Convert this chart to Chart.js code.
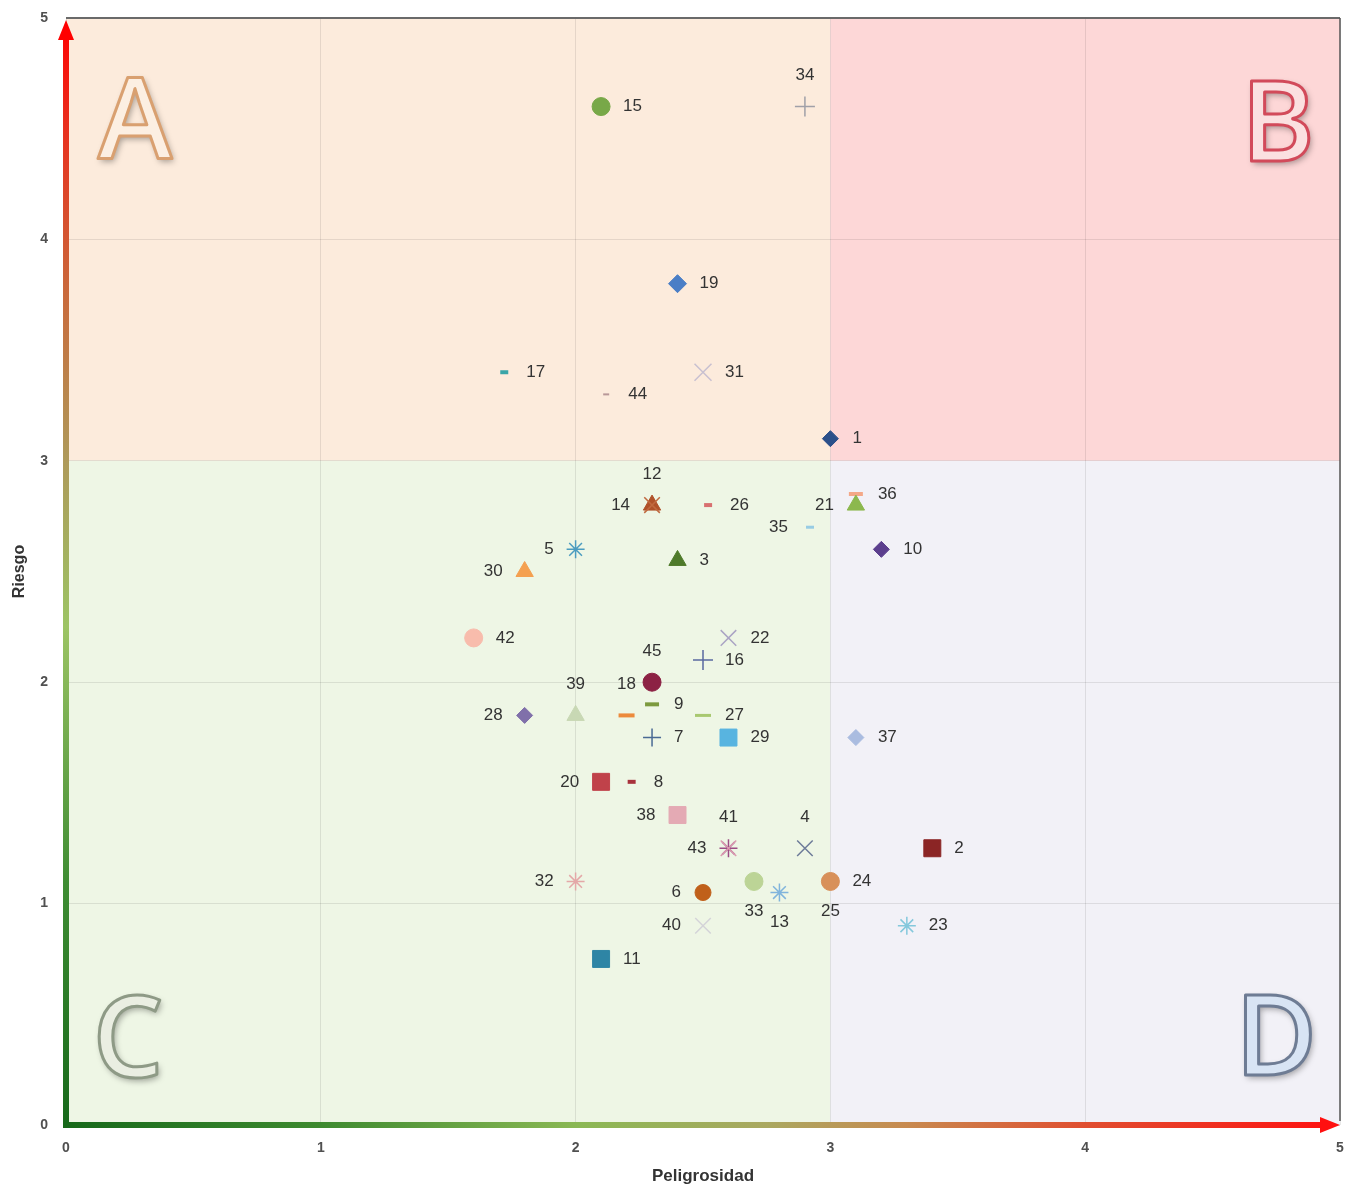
<!DOCTYPE html>
<html>
<head>
<meta charset="utf-8">
<script src="https://cdn.jsdelivr.net/npm/chart.js@4"></script>
<style>
	body { margin: 0; background: #fff; }
	canvas { display: block; }
</style>
</head>
<body>
<canvas id="chart" width="1345" height="1189"></canvas>
<script>
// risk numbers, in the order they were numbered
const ids = [1, 2, 3, 4, 5, 6, 7, 8, 9, 10, 11, 12, 13, 14, 15, 16, 17, 18, 19, 20, 21, 22, 23,
	24, 25, 26, 27, 28, 29, 30, 31, 32, 33, 34, 35, 36, 37, 38, 39, 40, 41, 42, 43, 44, 45];

// Peligrosidad (x)
const peligrosidad = [3.0, 3.4, 2.4, 2.9, 2.0, 2.5, 2.3, 2.22, 2.3, 3.2, 2.1, 2.3, 2.8, 2.3, 2.1,
	2.5, 1.72, 2.2, 2.4, 2.1, 3.1, 2.6, 3.3, 3.0, 3.0, 2.52, 2.5, 1.8, 2.6, 1.8, 2.5, 2.0, 2.7,
	2.9, 2.92, 3.1, 3.1, 2.4, 2.0, 2.5, 2.6, 1.6, 2.6, 2.12, 2.3];

// Riesgo (y)
const riesgo = [3.1, 1.25, 2.55, 1.25, 2.6, 1.05, 1.75, 1.55, 1.9, 2.6, 0.75, 2.8, 1.05, 2.8, 4.6,
	2.1, 3.4, 1.85, 3.8, 1.55, 2.8, 2.2, 0.9, 1.1, 1.1, 2.8, 1.85, 1.85, 1.75, 2.5, 3.4, 1.1, 1.1,
	4.6, 2.7, 2.85, 1.75, 1.4, 1.85, 0.9, 1.25, 2.2, 1.25, 3.3, 2.0];

const axisTicks = [0, 1, 2, 3, 4, 5];
const quadrantLetters = ['A', 'B', 'C', 'D'];

// marker look per risk: [style, colour, radius, border]
const markers = [
	['rectRot', '#2b4f8a', 8, 1], ['rect', '#8b2525', 12, 1], ['triangle', '#4e7a2a', 10, 1],
	['crossRot', '#6d7b99', 11, 1.5], ['star', '#4b9cc0', 9, 1.5], ['circle', '#c0601a', 8, 1],
	['cross', '#4a6a94', 9, 1.5], ['line', '#a8323c', 4, 4], ['line', '#7c9a3e', 7, 4],
	['rectRot', '#5c3f8e', 8, 1], ['rect', '#2e85a5', 12, 1], ['crossRot', '#c06a40', 11, 1.5],
	['star', '#80b4dc', 9, 1.5], ['triangle', '#b0522a', 10, 1], ['circle', '#78a848', 9, 1],
	['cross', '#5a6aa0', 10, 1.5], ['line', '#3aa5a8', 4, 4], ['line', '#ec8a3c', 8, 4],
	['rectRot', '#4a7ec6', 9, 1], ['rect', '#c0424a', 12, 1], ['triangle', '#8cb84e', 10, 1],
	['crossRot', '#aaa4c4', 11, 1.5], ['star', '#84c8dc', 9, 1.5], ['circle', '#d8905a', 9, 1],
	['circle', '#e0a070', 8, 1], ['line', '#d87070', 4, 4], ['line', '#a8c870', 8, 3],
	['rectRot', '#8070aa', 8, 1], ['rect', '#58b4e0', 12, 1], ['triangle', '#f4a050', 10, 1],
	['crossRot', '#c8c0d0', 12, 1.5], ['star', '#e4a8a8', 9, 1.5], ['circle', '#bcd496', 9, 1],
	['cross', '#a0a0a8', 10, 1.5], ['line', '#98cce4', 4, 3], ['line', '#f4a888', 7, 4],
	['rectRot', '#aabce0', 8, 1], ['rect', '#e4aab4', 12, 1], ['triangle', '#c8d8b4', 10, 1],
	['crossRot', '#d4d4d8', 11, 1.5], ['crossRot', '#dc9cb0', 11, 1.5], ['circle', '#f8bcac', 9, 1],
	['star', '#9c4c84', 9, 1.5], ['line', '#b89898', 3, 2], ['circle', '#8c2244', 9, 1]
];

// where each number sits next to its marker
const labelSide = ['r', 'r', 'r', 't', 'l', 'l', 'r', 'r', 'r', 'r', 'r', 't', 'b', 'l', 'r',
	'r', 'r', 't', 'r', 'l', 'l', 'r', 'r', 'r', 'b', 'r', 'r', 'l', 'r', 'l', 'r', 'l', 'b',
	't', 'l', 'r', 'r', 'l', 't', 'l', 't', 'r', 'l', 'r', 't'];

const datasets = ids.map((id, i) => {
	const m = markers[i];
	return {
		label: String(id),
		data: [{x: peligrosidad[i], y: riesgo[i]}],
		pointStyle: m[0],
		pointRadius: m[2],
		pointHoverRadius: m[2],
		pointBorderWidth: m[3],
		backgroundColor: m[1],
		borderColor: m[1]
	};
});

const quadrants = {
	id: 'quadrants',
	beforeDraw(chart) {
		const {ctx, scales: {x, y}} = chart;
		const fill = (x0, x1, y0, y1, c) => {
			const l = x.getPixelForValue(x0), r = x.getPixelForValue(x1);
			const t = y.getPixelForValue(y1), b = y.getPixelForValue(y0);
			ctx.fillStyle = c;
			ctx.fillRect(l, t, r - l, b - t);
		};
		ctx.save();
		fill(0, 3, 3, 5, '#fcebdc');
		fill(3, 5, 3, 5, '#fdd7d7');
		fill(0, 3, 0, 3, '#eef6e5');
		fill(3, 5, 0, 3, '#f2f1f7');
		ctx.restore();
	},
	beforeDatasetsDraw(chart) {
		const {ctx, chartArea: {left, top, right, bottom}} = chart;
		const letter = (ch, cx, base, fillC, strokeC) => {
			ctx.save();
			ctx.font = '600 112px "Open Sans", "DejaVu Sans", sans-serif';
			ctx.textAlign = 'center';
			ctx.textBaseline = 'alphabetic';
			ctx.shadowColor = 'rgba(0,0,0,0.35)';
			ctx.shadowBlur = 6;
			ctx.shadowOffsetX = 2;
			ctx.shadowOffsetY = 3;
			ctx.fillStyle = fillC;
			ctx.fillText(ch, cx, base);
			ctx.shadowColor = 'transparent';
			ctx.lineWidth = 3;
			ctx.lineJoin = 'round';
			ctx.strokeStyle = strokeC;
			ctx.strokeText(ch, cx, base);
			ctx.restore();
		};
		letter(quadrantLetters[0], left + 69, top + 140, '#fcefe2', '#d9a070');
		letter(quadrantLetters[1], right - 62, top + 143, '#fbe0e0', '#d24a5a');
		letter(quadrantLetters[2], left + 62, bottom - 48, '#eaeee2', '#8e9a86');
		letter(quadrantLetters[3], right - 64, bottom - 50, '#d8e4f4', '#6e7c94');
	},
	afterDraw(chart) {
		const {ctx, chartArea: {left, top, right, bottom}} = chart;
		ctx.save();
		// frame top and right
		ctx.strokeStyle = '#6a6a6a';
		ctx.lineWidth = 2;
		ctx.beginPath();
		ctx.moveTo(left, top);
		ctx.lineTo(right, top);
		ctx.stroke();
		ctx.lineWidth = 1.5;
		ctx.strokeStyle = '#555';
		ctx.beginPath();
		ctx.moveTo(right, top);
		ctx.lineTo(right, bottom - 4);
		ctx.stroke();

		// vertical arrow, green to red
		let g = ctx.createLinearGradient(0, bottom, 0, top);
		g.addColorStop(0, '#17691a');
		g.addColorStop(0.22, '#3f8d33');
		g.addColorStop(0.45, '#9cc464');
		g.addColorStop(0.6, '#ae9a5a');
		g.addColorStop(0.75, '#c96a3c');
		g.addColorStop(0.9, '#e8301e');
		g.addColorStop(1, '#ff0000');
		ctx.fillStyle = g;
		ctx.fillRect(left - 3, top + 18, 6, bottom - top - 15);
		ctx.fillStyle = '#ff0000';
		ctx.beginPath();
		ctx.moveTo(left, top + 2);
		ctx.lineTo(left - 8, top + 22);
		ctx.lineTo(left + 8, top + 22);
		ctx.closePath();
		ctx.fill();

		// horizontal arrow, green to red
		g = ctx.createLinearGradient(left, 0, right, 0);
		g.addColorStop(0, '#17691a');
		g.addColorStop(0.2, '#3e8a30');
		g.addColorStop(0.4, '#8ab854');
		g.addColorStop(0.55, '#aaa860');
		g.addColorStop(0.66, '#c88a50');
		g.addColorStop(0.8, '#e04e30');
		g.addColorStop(1, '#ff1010');
		ctx.fillStyle = g;
		ctx.fillRect(left - 3, bottom - 3, right - left - 16, 6);
		ctx.fillStyle = '#ff1010';
		ctx.beginPath();
		ctx.moveTo(right, bottom);
		ctx.lineTo(right - 20, bottom - 8);
		ctx.lineTo(right - 20, bottom + 8);
		ctx.closePath();
		ctx.fill();
		ctx.restore();
	}
};

const pointLabels = {
	id: 'pointLabels',
	afterDatasetsDraw(chart) {
		const ctx = chart.ctx;
		ctx.save();
		ctx.font = '17px "Liberation Sans", Arial, sans-serif';
		ctx.fillStyle = '#333';
		ctx.textBaseline = 'middle';
		chart.data.datasets.forEach((ds, i) => {
			const pt = chart.getDatasetMeta(i).data[0];
			var x = pt.x, y = pt.y;
			switch (labelSide[i]) {
				case 'r': ctx.textAlign = 'left'; x += 22; break;
				case 'l': ctx.textAlign = 'right'; x -= 22; break;
				case 't': ctx.textAlign = 'center'; y -= 31; break;
				case 'b': ctx.textAlign = 'center'; y += 30; break;
			}
			ctx.fillText(ds.label, x, y);
		});
		ctx.restore();
	}
};

const tickFont = {family: '"Liberation Sans", Arial, sans-serif', size: 14, weight: 'bold'};

new Chart(document.getElementById('chart'), {
	type: 'scatter',
	data: {datasets},
	options: {
		responsive: false,
		animation: false,
		layout: {autoPadding: false, padding: {top: 18, right: 5, left: 0, bottom: 0}},
		scales: {
			x: {
				min: axisTicks[0],
				max: axisTicks[axisTicks.length - 1],
				afterBuildTicks: s => { s.ticks = axisTicks.map(v => ({value: v})); },
				afterFit: s => { s.height = 64; s.paddingLeft = 0; s.paddingRight = 0; },
				grid: {color: 'rgba(0,0,0,0.09)', drawTicks: false},
				border: {display: false},
				ticks: {padding: 15, color: '#505050', font: tickFont},
				title: {
					display: true,
					text: 'Peligrosidad',
					color: '#333',
					font: {family: '"Liberation Sans", Arial, sans-serif', size: 17, weight: 'bold'},
					padding: {top: 0, bottom: 2}
				}
			},
			y: {
				min: axisTicks[0],
				max: axisTicks[axisTicks.length - 1],
				afterBuildTicks: s => { s.ticks = axisTicks.map(v => ({value: v})); },
				afterFit: s => { s.width = 66; s.paddingTop = 0; s.paddingBottom = 0; },
				grid: {color: 'rgba(0,0,0,0.09)', drawTicks: false},
				border: {display: false},
				ticks: {padding: 18, color: '#505050', font: tickFont},
				title: {
					display: true,
					text: 'Riesgo',
					color: '#333',
					font: {family: '"Liberation Sans", Arial, sans-serif', size: 16, weight: 'bold'},
					padding: {top: 10, bottom: 0}
				}
			}
		},
		plugins: {
			legend: {display: false},
			tooltip: {enabled: false}
		}
	},
	plugins: [quadrants, pointLabels]
});
</script>
</body>
</html>
